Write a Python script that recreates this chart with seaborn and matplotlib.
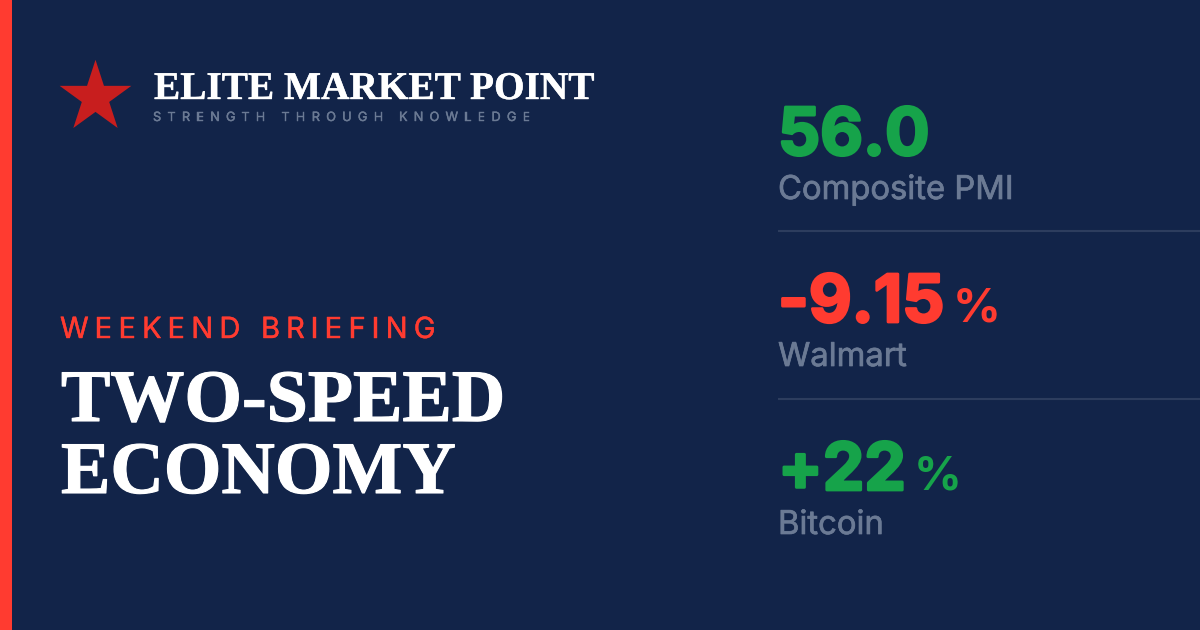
import matplotlib

matplotlib.use("Agg")

import matplotlib.patheffects as pe
import matplotlib.pyplot as plt
import seaborn as sns

# content
brand = "ELITE MARKET POINT"
tagline = "STRENGTH THROUGH KNOWLEDGE"
kicker = "WEEKEND BRIEFING"
headline = ["TWO-SPEED", "ECONOMY"]
stat_values = ["56.0", "-9.15", "+22"]
stat_units = ["", "%", "%"]
stat_labels = ["Composite PMI", "Walmart", "Bitcoin"]
stat_colors = ["#16a34a", "#ff3b30", "#16a34a"]

BG = "#122449"
RED = "#ff3b30"
GREY = "#6b7a94"
SANS = "Inter"
SERIF = "Liberation Serif"

sns.set_theme(style="white")
fig = plt.figure(figsize=(12, 6.3), dpi=100, facecolor=BG)
ax = fig.add_axes([0, 0, 1, 1], facecolor=BG)
ax.set_xlim(0, 1200)
ax.set_ylim(630, 0)
ax.axis("off")
renderer = fig.canvas.get_renderer()


def fatten(color, width):
    # fake the in-between font weights with a thin outline
    return [pe.withStroke(linewidth=width, foreground=color)]


def tracked(x, y, text, size, color, spacing, stroke=0.0, **kw):
    # matplotlib has no letter spacing, so step along the string
    for ch in text:
        t = ax.text(x, y, ch, fontsize=size, color=color, family=SANS, va="baseline",
                    path_effects=fatten(color, stroke), **kw)
        if ch == " ":
            x += size * 0.4 + spacing
        else:
            x = t.get_window_extent(renderer).x1 + spacing


ax.axvspan(0, 12, color=RED, lw=0)
sns.scatterplot(x=[95], y=[97], marker="*", s=2950, color="#c81e1e", linewidth=0, ax=ax, legend=False)

ax.text(154, 99, brand, fontsize=28.3, color="white", family=SERIF, weight="bold", va="baseline",
        path_effects=fatten("white", 0.3))
tracked(153, 121, tagline, 9.2, GREY, 6.2, stroke=0.3)
tracked(60, 338, kicker, 21, RED, 6.1, stroke=0.3)

for line, y in zip(headline, [421, 493]):
    ax.text(61, y, line, fontsize=53.3, color="white", family=SERIF, weight="bold", va="baseline",
            path_effects=fatten("white", 0.8))

baselines = [155, 322, 490]
for i, value in enumerate(stat_values):
    y = baselines[i]
    color = stat_colors[i]
    t = ax.text(778, y, value, fontsize=47.5, color=color, family=SANS, weight="bold",
                va="baseline", path_effects=fatten(color, 2.0))
    if stat_units[i]:
        x1 = t.get_window_extent(renderer).x1
        ax.text(x1 + 8, y, stat_units[i], fontsize=34, color=color, family=SANS, weight="bold", va="baseline")
    ax.text(778, y + 44, stat_labels[i], fontsize=23.6, color=GREY, family=SANS, va="baseline",
            path_effects=fatten(GREY, 0.5))

for y in [231, 399]:
    ax.hlines(y, 778, 1200, color="#2d3d5e", lw=1.5)

fig.savefig("out.png", dpi=100, facecolor=BG)
plt.close(fig)
